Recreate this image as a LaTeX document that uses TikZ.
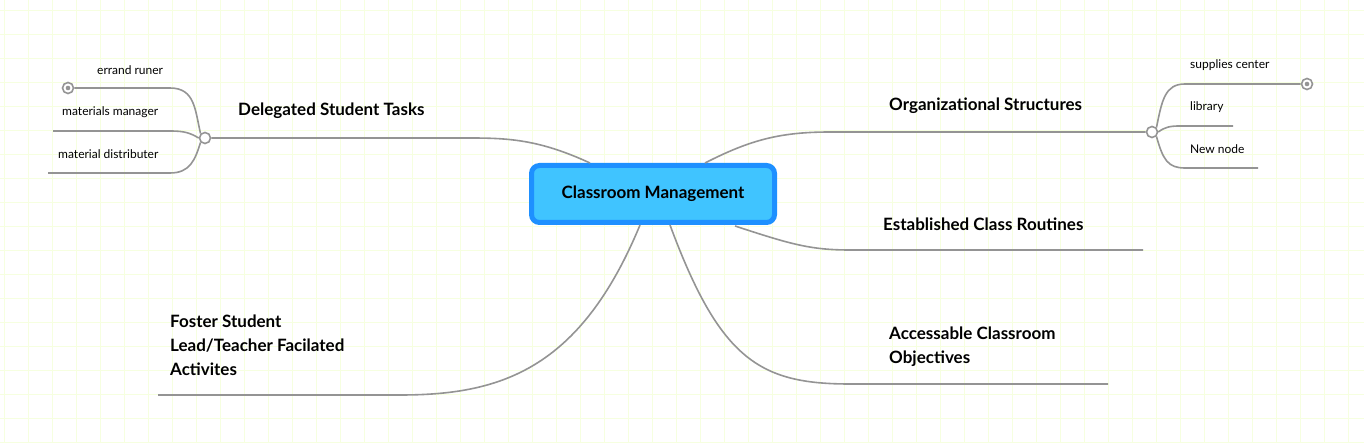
\documentclass[tikz,border=0pt]{standalone}
\usepackage{fontspec}
\setmainfont{Lato}
\begin{document}
\begin{tikzpicture}[x=1pt,y=-1pt,
  conn/.style={draw=black!42,line width=1.6pt},
  lbl/.style={font=\bfseries\fontsize{17}{24}\selectfont,anchor=west,align=left,inner sep=0},
  sub/.style={font=\fontsize{12}{14}\selectfont,anchor=west,inner sep=0},
  hub/.style={circle,draw=black!42,fill=white,line width=1.6pt,minimum size=11pt,inner sep=0},
  endpt/.style={circle,draw=black!42,fill=white,line width=1.6pt,minimum size=11pt,inner sep=0,path picture={\fill[black!42] (path picture bounding box.center) circle (2.3pt);}}]
\fill[white] (0,0) rectangle (1364,443);
\useasboundingbox (0,0) rectangle (1364,443);
\foreach \x in {4,28,...,1364} \draw[green!30!yellow!12!white,line width=0.6pt] (\x,0)--(\x,443);
\foreach \y in {10,34,...,443} \draw[green!30!yellow!12!white,line width=0.6pt] (0,\y)--(1364,\y);
% central
\node[draw={rgb,255:red,30;green,144;blue,255},line width=5pt,fill={rgb,255:red,64;green,196;blue,255},rounded corners=8pt,minimum width=243pt,minimum height=57pt,font=\bfseries\fontsize{17}{20}\selectfont] (c) at (653,194) {Classroom Management};
% hubs
\node[hub] (h1) at (205,138) {};
\node[hub] (h2) at (1152,132) {};
\node[endpt] (e1) at (68,88) {};
\node[endpt] (e2) at (1307,84) {};
\coordinate (s2) at (53,131); \coordinate (s3) at (48,173);
\coordinate (r2) at (1233,126); \coordinate (r3) at (1258,168);
\coordinate (est) at (1143,250); \coordinate (acc) at (1108,384); \coordinate (fos) at (158,395);
% main branches
\draw[conn] (590,163) .. controls (540,140) and (510,138) .. (470,138) -- (h1.east);
\draw[conn] (705,163) .. controls (750,140) and (780,132) .. (830,132) -- (h2.west);
\draw[conn] (735,226) .. controls (790,244) and (810,250) .. (850,250) -- (est);
\draw[conn] (670,225) .. controls (720,360) and (760,384) .. (850,384) -- (acc);
\draw[conn] (640,225) .. controls (580,370) and (500,395) .. (400,395) -- (fos);
% sub branches left
\draw[conn] (h1.north west) .. controls (195,110) and (195,88) .. (170,88) -- (e1.east);
\draw[conn] (h1.west) .. controls (190,133) and (185,131) .. (170,131) -- (s2);
\draw[conn] (h1.south west) .. controls (195,160) and (190,173) .. (170,173) -- (s3);
% sub branches right
\draw[conn] (h2.north east) .. controls (1162,100) and (1165,84) .. (1185,84) -- (e2.west);
\draw[conn] (h2.east) .. controls (1165,127) and (1170,126) .. (1180,126) -- (r2);
\draw[conn] (h2.south east) .. controls (1163,160) and (1168,168) .. (1185,168) -- (r3);
% labels
\node[lbl] (l1) at (238,111) {Delegated Student Tasks};
\node[lbl] (l2) at (889,106) {Organizational Structures};
\node[lbl] (l3) at (883,224) {Established Class Routines};
\node[lbl] (l4) at (889,347) {Accessable Classroom\\Objectives};
\node[lbl] (l5) at (170,345) {Foster Student\\Lead/Teacher Facilated\\Activites};
\node[sub] (t1) at (97,70) {errand runer};
\node[sub] (t2) at (62,112) {materials manager};
\node[sub] (t3) at (58,154) {material distributer};
\node[sub] (t4) at (1190,65) {supplies center};
\node[sub] (t5) at (1190,107) {library};
\node[sub] (t6) at (1190,149) {New node};
\end{tikzpicture}
\end{document}
